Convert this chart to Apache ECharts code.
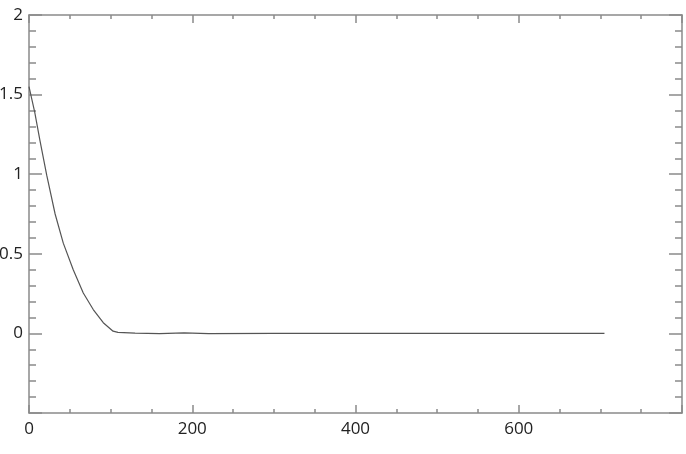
<!DOCTYPE html>
<html>
<head>
<meta charset="utf-8">
<script src="https://cdn.jsdelivr.net/npm/echarts@6/dist/echarts.min.js"></script>
<style>
  html, body { margin: 0; padding: 0; background: #fff; }
  #chart { width: 686px; height: 454px; }
</style>
</head>
<body>
<div id="chart"></div>
<script>
// Data
var xValues = [0, 7, 13.5, 21.7, 32, 42, 54.2, 66.5, 78.7, 91, 103, 109, 130, 160, 190, 220, 300, 400, 500, 600, 705];
var yValues = [1.55, 1.39, 1.21, 0.994, 0.75, 0.567, 0.4, 0.254, 0.15, 0.067, 0.014, 0.006, 0.002, -0.002, 0.003, -0.001, 0, 0, 0, 0, 0];
var xTickLabels = [0, 200, 400, 600];
var yTickLabels = [0, 0.5, 1, 1.5, 2];

var seriesData = xValues.map(function (x, i) { return [x, yValues[i]]; });

var axisColor = '#8a8a8a';
var labelFont = { color: '#222', fontFamily: 'Open Sans', fontSize: 17 };

function xAxisCfg(pos, showLabel) {
  return {
    type: 'value', position: pos, min: 0, max: 800, interval: 200,
    axisLine: { show: true, onZero: false, lineStyle: { color: axisColor, width: 1.5 } },
    axisTick: { show: true, inside: true, length: 8, lineStyle: { color: axisColor, width: 1.5 } },
    minorTick: { show: true, splitNumber: 4, length: 4, lineStyle: { color: axisColor, width: 1.5 } },
    splitLine: { show: false },
    axisLabel: Object.assign({
      show: showLabel, margin: 8,
      formatter: function (v) { return xTickLabels.indexOf(v) >= 0 ? String(v) : ''; }
    }, labelFont)
  };
}
function yAxisCfg(pos, showLabel) {
  return {
    type: 'value', position: pos, min: -0.5, max: 2, interval: 0.5,
    axisLine: { show: true, onZero: false, lineStyle: { color: axisColor, width: 1.5 } },
    axisTick: { show: true, inside: true, length: 13, lineStyle: { color: axisColor, width: 1.5 } },
    minorTick: { show: true, splitNumber: 5, length: 7, lineStyle: { color: axisColor, width: 1.5 } },
    splitLine: { show: false },
    axisLabel: Object.assign({
      show: showLabel, margin: 6,
      formatter: function (v) {
        var r = Math.round(v * 10) / 10;
        return yTickLabels.indexOf(r) >= 0 ? String(r) : '';
      }
    }, labelFont)
  };
}

var chart = echarts.init(document.getElementById('chart'));
chart.setOption({
  animation: false,
  backgroundColor: '#fff',
  grid: { left: 29, right: 4, top: 15, bottom: 41, containLabel: false, outerBoundsMode: 'none' },
  xAxis: [xAxisCfg('bottom', true), xAxisCfg('top', false)],
  yAxis: [yAxisCfg('left', true), yAxisCfg('right', false)],
  series: [{
    type: 'line',
    data: seriesData,
    showSymbol: false,
    smooth: false,
    lineStyle: { color: '#555', width: 1.2 }
  }]
});
</script>
</body>
</html>
